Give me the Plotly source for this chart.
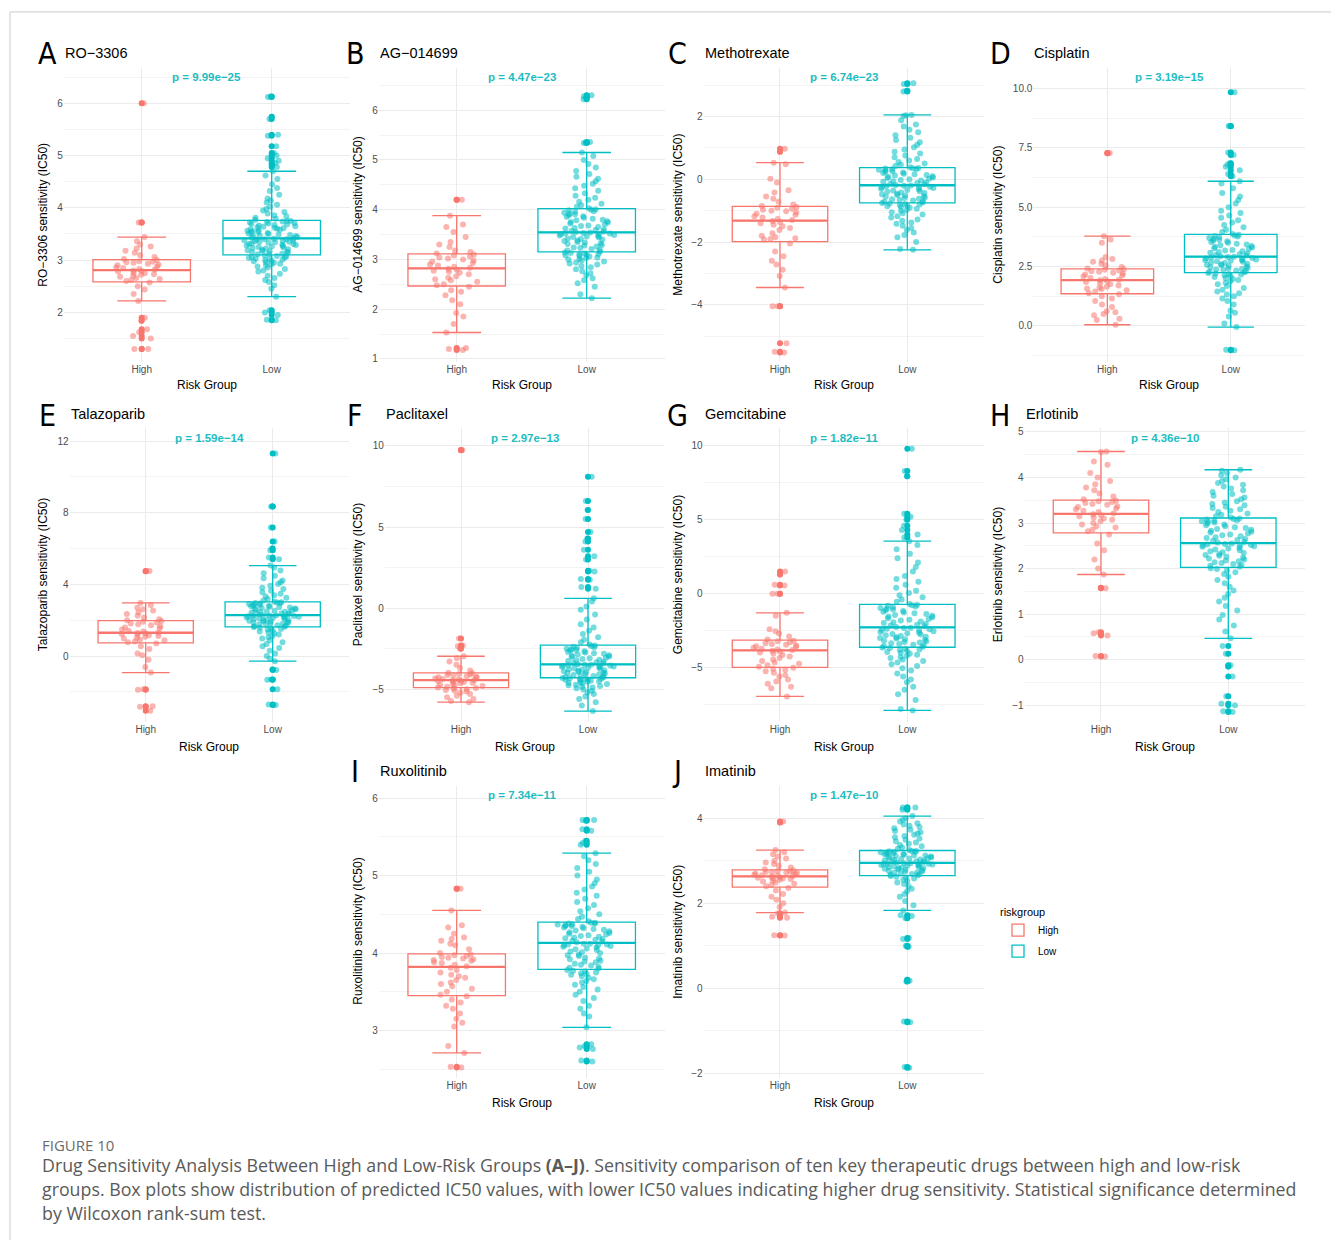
import numpy as np
import plotly.graph_objects as go

# ---------------- data ----------------
groups = ["High", "Low"]
panel_letters = ["A", "B", "C", "D", "E", "F", "G", "H", "I", "J"]
drugs = ["RO−3306", "AG−014699", "Methotrexate", "Cisplatin", "Talazoparib",
         "Paclitaxel", "Gemcitabine", "Erlotinib", "Ruxolitinib", "Imatinib"]
p_labels = ["p = 9.99e−25", "p = 4.47e−23", "p = 6.74e−23", "p = 3.19e−15",
            "p = 1.59e−14", "p = 2.97e−13", "p = 1.82e−11", "p = 4.36e−10",
            "p = 7.34e−11", "p = 1.47e−10"]

ro3306_high = [1.30, 1.30, 1.50, 1.55, 1.62, 1.68, 1.84, 1.90, 2.22, 2.35, 2.44, 2.50, 2.57,
               2.60, 2.62, 2.64, 2.66, 2.68, 2.70, 2.72, 2.73, 2.75, 2.76, 2.78, 2.79, 2.80,
               2.82, 2.83, 2.85, 2.86, 2.88, 2.90, 2.91, 2.93, 2.95, 2.96, 2.97, 2.98, 3.00,
               3.02, 3.06, 3.10, 3.14, 3.18, 3.22, 3.26, 3.30, 3.36, 3.44, 3.72, 3.72, 6.00]
ro3306_low = [1.85, 1.86, 1.95, 2.00, 2.04, 2.30, 2.45, 2.52, 2.58, 2.62, 2.66, 2.70, 2.74, 2.78,
              2.80, 2.83, 2.86, 2.88, 2.90, 2.92, 2.93, 2.95, 2.96, 2.98, 2.99, 3.00, 3.01, 3.02,
              3.03, 3.04, 3.05, 3.06, 3.07, 3.08, 3.09,
              3.11, 3.12, 3.12, 3.14, 3.15, 3.16, 3.17, 3.18, 3.19, 3.20, 3.21, 3.22, 3.23, 3.24,
              3.25, 3.26, 3.27, 3.28, 3.29, 3.30, 3.31, 3.31, 3.32, 3.33, 3.34, 3.35, 3.35, 3.36,
              3.37, 3.38, 3.38, 3.39, 3.40, 3.40, 3.41,
              3.42, 3.43, 3.44, 3.45, 3.46, 3.47, 3.48, 3.49, 3.50, 3.51, 3.52, 3.53, 3.54, 3.55,
              3.56, 3.57, 3.58, 3.59, 3.60, 3.61, 3.62, 3.63, 3.64, 3.65, 3.66, 3.67, 3.68, 3.69,
              3.70, 3.71, 3.72, 3.73, 3.74, 3.75, 3.75,
              3.77, 3.79, 3.81, 3.84, 3.86, 3.89, 3.92, 3.95, 3.98, 4.02, 4.06, 4.10, 4.14, 4.18,
              4.25, 4.32, 4.38, 4.45, 4.55, 4.62, 4.70, 4.78, 4.82, 4.86, 4.90, 4.95, 5.00, 5.05,
              5.18, 5.38, 5.40, 5.70, 5.74, 6.12, 6.13]

ag014699_high = [1.18, 1.20, 1.22, 1.53, 1.70, 1.85, 1.92, 2.10, 2.18, 2.28, 2.35, 2.38, 2.45,
                 2.48, 2.50, 2.55, 2.58, 2.60, 2.63, 2.66, 2.70, 2.73, 2.75, 2.77, 2.79, 2.81,
                 2.83, 2.85, 2.88, 2.90, 2.93, 2.96, 2.98, 3.00, 3.02, 3.04, 3.06, 3.08, 3.10,
                 3.12, 3.15, 3.18, 3.25, 3.30, 3.35, 3.45, 3.55, 3.65, 3.70, 3.88, 4.20, 4.20]
ag014699_low = [2.22, 2.30, 2.45, 2.52, 2.58, 2.62, 2.68, 2.72, 2.76, 2.80, 2.84, 2.87, 2.90, 2.92,
                2.94, 2.96, 2.98, 3.00, 3.01, 3.03, 3.04, 3.06, 3.07, 3.08, 3.09, 3.10, 3.11, 3.12,
                3.13, 3.14,
                3.16, 3.18, 3.19, 3.21, 3.23, 3.24, 3.26, 3.28, 3.29, 3.31, 3.32, 3.34, 3.35, 3.37,
                3.38, 3.40, 3.41, 3.42, 3.44, 3.45, 3.46, 3.47, 3.48, 3.49, 3.50, 3.51, 3.52, 3.52,
                3.53, 3.54,
                3.55, 3.56, 3.57, 3.59, 3.60, 3.62, 3.63, 3.65, 3.67, 3.68, 3.70, 3.72, 3.74, 3.75,
                3.77, 3.79, 3.80, 3.82, 3.84, 3.86, 3.87, 3.89, 3.91, 3.92, 3.94, 3.96, 3.97, 3.99,
                4.00, 4.01,
                4.03, 4.06, 4.09, 4.12, 4.16, 4.20, 4.24, 4.28, 4.33, 4.38, 4.43, 4.48, 4.52, 4.57,
                4.62, 4.66, 4.72, 4.78, 4.85, 4.92, 5.00, 5.08, 5.15, 5.34, 5.35, 5.36, 6.22, 6.25,
                6.28, 6.30]

methotrexate_high = [-5.52, -5.50, -5.23, -4.05, -4.05, -3.45, -3.08, -2.88, -2.72, -2.60, -2.45, -2.30, -2.05,
                     -1.92, -1.90, -1.88, -1.85, -1.80, -1.72, -1.62, -1.55, -1.50, -1.45, -1.40, -1.36, -1.33,
                     -1.30, -1.27, -1.22, -1.18, -1.13, -1.10, -1.05, -1.02, -1.00, -0.97, -0.94, -0.91, -0.88,
                     -0.85, -0.80, -0.72, -0.62, -0.55, -0.42, -0.35, -0.10, 0.02, 0.48, 0.53, 0.88, 0.97]
methotrexate_low = [-2.25, -2.22, -2.00, -1.85, -1.78, -1.70, -1.62, -1.55, -1.48, -1.42, -1.38, -1.32,
                    -1.28, -1.22, -1.18, -1.12, -1.08, -1.05, -1.00, -0.97, -0.94, -0.91, -0.88, -0.86,
                    -0.84, -0.82, -0.80, -0.79, -0.77, -0.76,
                    -0.74, -0.72, -0.70, -0.68, -0.66, -0.64, -0.62, -0.60, -0.58, -0.56, -0.54, -0.52,
                    -0.50, -0.48, -0.46, -0.44, -0.42, -0.40, -0.38, -0.36, -0.34, -0.32, -0.30, -0.28,
                    -0.27, -0.25, -0.24, -0.22, -0.21, -0.20,
                    -0.18, -0.16, -0.14, -0.12, -0.10, -0.08, -0.06, -0.04, -0.02, 0.00, 0.02, 0.04,
                    0.06, 0.08, 0.10, 0.12, 0.14, 0.16, 0.18, 0.20, 0.22, 0.24, 0.26, 0.28, 0.30, 0.32,
                    0.33, 0.34, 0.35, 0.36,
                    0.38, 0.42, 0.46, 0.50, 0.55, 0.60, 0.65, 0.70, 0.76, 0.82, 0.88, 0.95, 1.02, 1.10,
                    1.18, 1.25, 1.32, 1.40, 1.50, 1.58, 1.68, 1.75, 1.88, 2.02, 2.04, 2.05, 2.80, 2.82,
                    3.04, 3.06]

cisplatin_high = [0.05, 0.25, 0.30, 0.45, 0.50, 0.58, 0.62, 0.80, 0.90, 1.05, 1.15, 1.25, 1.33,
                  1.38, 1.45, 1.50, 1.55, 1.58, 1.62, 1.65, 1.70, 1.75, 1.80, 1.85, 1.88, 1.92,
                  1.94, 1.98, 2.02, 2.08, 2.12, 2.16, 2.20, 2.24, 2.28, 2.30, 2.33, 2.36, 2.39,
                  2.42, 2.48, 2.55, 2.62, 2.70, 2.75, 2.82, 2.90, 3.50, 3.64, 3.78, 7.27, 7.28]
cisplatin_low = [-1.02, -1.00, -0.05, 0.10, 0.40, 0.55, 0.65, 0.90, 1.05, 1.15, 1.25, 1.32, 1.38,
                 1.45, 1.52, 1.60, 1.68, 1.75, 1.82, 1.88, 1.93, 1.98, 2.02, 2.06, 2.10, 2.13, 2.16,
                 2.19, 2.21, 2.23,
                 2.26, 2.28, 2.30, 2.33, 2.35, 2.38, 2.40, 2.42, 2.45, 2.47, 2.50, 2.52, 2.55, 2.57,
                 2.60, 2.62, 2.65, 2.67, 2.70, 2.72, 2.74, 2.76, 2.78, 2.80, 2.82, 2.84, 2.86, 2.88,
                 2.90, 2.91,
                 2.93, 2.96, 2.99, 3.02, 3.05, 3.08, 3.11, 3.14, 3.17, 3.20, 3.24, 3.27, 3.30, 3.33,
                 3.36, 3.40, 3.43, 3.46, 3.50, 3.53, 3.56, 3.60, 3.63, 3.66, 3.70, 3.73, 3.76, 3.79,
                 3.81, 3.84,
                 3.87, 3.95, 4.05, 4.15, 4.25, 4.35, 4.45, 4.55, 4.65, 4.75, 4.85, 5.00, 5.15, 5.30,
                 5.45, 5.60, 5.80, 6.00, 6.09, 6.30, 6.40, 6.55, 6.70, 6.80, 6.85, 7.20, 7.30, 8.41,
                 8.42, 9.84]

talazoparib_high = [-3.05, -2.82, -2.80, -1.87, -1.85, -0.92, -0.60, -0.20, 0.05, 0.15, 0.40, 0.55, 0.70,
                    0.78, 0.82, 0.88, 0.92, 0.98, 1.02, 1.08, 1.12, 1.16, 1.20, 1.24, 1.27, 1.29,
                    1.32, 1.38, 1.42, 1.48, 1.55, 1.60, 1.66, 1.72, 1.78, 1.82, 1.88, 1.92, 1.96,
                    2.00, 2.06, 2.15, 2.25, 2.35, 2.45, 2.55, 2.62, 2.70, 2.85, 2.97, 4.73, 4.75]
talazoparib_low = [-2.72, -2.70, -1.85, -1.32, -1.30, -0.77, -0.75, -0.28, -0.15, 0.00, 0.15, 0.30,
                   0.45, 0.55, 0.68, 0.78, 0.88, 0.98, 1.05, 1.12, 1.20, 1.26, 1.32, 1.38, 1.43, 1.48,
                   1.52, 1.56, 1.59, 1.62,
                   1.64, 1.67, 1.70, 1.72, 1.75, 1.78, 1.80, 1.83, 1.86, 1.88, 1.90, 1.93, 1.95, 1.98,
                   2.00, 2.02, 2.05, 2.07, 2.09, 2.11, 2.13, 2.15, 2.17, 2.19, 2.21, 2.22, 2.24, 2.25,
                   2.26, 2.27,
                   2.30, 2.33, 2.35, 2.38, 2.40, 2.43, 2.46, 2.48, 2.51, 2.53, 2.56, 2.58, 2.61, 2.63,
                   2.66, 2.68, 2.71, 2.73, 2.76, 2.78, 2.81, 2.83, 2.86, 2.88, 2.91, 2.93, 2.95, 2.97,
                   2.99, 3.01,
                   3.04, 3.10, 3.18, 3.25, 3.32, 3.40, 3.48, 3.56, 3.65, 3.74, 3.82, 3.92, 4.02, 4.12,
                   4.22, 4.35, 4.48, 4.62, 4.78, 4.95, 5.05, 5.40, 5.50, 5.90, 6.00, 6.40, 7.18, 8.35,
                   8.35, 11.30]

paclitaxel_high = [-5.80, -5.73, -5.60, -5.50, -5.40, -5.30, -5.22, -5.15, -5.10, -5.05, -5.00, -4.96, -4.93,
                   -4.89, -4.85, -4.80, -4.76, -4.72, -4.68, -4.64, -4.60, -4.56, -4.53, -4.50, -4.47, -4.45,
                   -4.43, -4.40, -4.37, -4.34, -4.30, -4.27, -4.24, -4.20, -4.16, -4.12, -4.09, -4.06, -4.02,
                   -3.98, -3.85, -3.70, -3.50, -3.30, -3.10, -2.97, -2.50, -2.35, -2.30, -1.87, 9.73, 9.75]
paclitaxel_low = [-6.35, -6.00, -5.80, -5.60, -5.45, -5.30, -5.20, -5.10, -5.02, -4.95, -4.90, -4.85,
                  -4.80, -4.76, -4.72, -4.68, -4.64, -4.60, -4.57, -4.54, -4.51, -4.48, -4.45, -4.42,
                  -4.40, -4.38, -4.36, -4.34, -4.32, -4.31,
                  -4.28, -4.25, -4.22, -4.19, -4.16, -4.13, -4.10, -4.07, -4.04, -4.01, -3.98, -3.95,
                  -3.92, -3.89, -3.86, -3.83, -3.80, -3.77, -3.74, -3.71, -3.68, -3.65, -3.62, -3.60,
                  -3.58, -3.56, -3.54, -3.52, -3.50, -3.49,
                  -3.46, -3.42, -3.38, -3.34, -3.30, -3.26, -3.22, -3.18, -3.14, -3.10, -3.06, -3.02,
                  -2.98, -2.94, -2.90, -2.86, -2.82, -2.78, -2.74, -2.70, -2.66, -2.62, -2.58, -2.54,
                  -2.50, -2.46, -2.42, -2.38, -2.34, -2.31,
                  -2.25, -2.10, -1.95, -1.80, -1.60, -1.40, -1.20, -1.00, -0.70, -0.40, -0.10, 0.10,
                  0.40, 0.60, 1.20, 1.30, 1.75, 1.80, 2.25, 2.30, 3.00, 3.20, 3.60, 4.10, 4.30, 4.70,
                  5.50, 6.05, 6.60, 8.10]

gemcitabine_high = [-6.95, -6.40, -6.30, -6.10, -5.95, -5.80, -5.60, -5.50, -5.35, -5.25, -5.15, -5.08, -5.02,
                    -4.95, -4.85, -4.75, -4.65, -4.55, -4.45, -4.35, -4.25, -4.15, -4.05, -3.98, -3.92, -3.86,
                    -3.82, -3.78, -3.72, -3.66, -3.60, -3.55, -3.50, -3.45, -3.40, -3.35, -3.28, -3.22, -3.18,
                    -3.10, -2.90, -2.70, -2.55, -2.40, -1.50, -1.30, 0.00, 0.00, 0.55, 0.60, 1.30, 1.50]
gemcitabine_low = [-7.90, -7.80, -7.20, -6.80, -6.50, -6.30, -6.00, -5.80, -5.60, -5.40, -5.20, -5.05,
                   -4.90, -4.78, -4.66, -4.55, -4.45, -4.36, -4.28, -4.20, -4.13, -4.06, -4.00, -3.94,
                   -3.88, -3.82, -3.77, -3.72, -3.68, -3.65,
                   -3.60, -3.55, -3.50, -3.45, -3.40, -3.36, -3.31, -3.27, -3.22, -3.18, -3.13, -3.09,
                   -3.04, -3.00, -2.95, -2.91, -2.86, -2.82, -2.77, -2.73, -2.68, -2.64, -2.59, -2.55,
                   -2.50, -2.46, -2.41, -2.37, -2.33, -2.30,
                   -2.26, -2.20, -2.15, -2.10, -2.04, -1.98, -1.93, -1.88, -1.82, -1.76, -1.71, -1.66,
                   -1.60, -1.55, -1.50, -1.44, -1.38, -1.33, -1.28, -1.22, -1.17, -1.12, -1.07, -1.02,
                   -0.97, -0.92, -0.87, -0.82, -0.78, -0.75,
                   -0.70, -0.55, -0.40, -0.25, -0.10, 0.05, 0.20, 0.40, 0.60, 0.80, 1.00, 1.20, 1.50,
                   1.80, 2.10, 2.40, 2.70, 3.00, 3.30, 3.55, 3.80, 4.00, 4.30, 4.60, 5.00, 5.20, 5.40,
                   7.95, 8.30, 9.80]

erlotinib_high = [0.07, 0.08, 0.53, 0.58, 0.60, 1.57, 1.58, 1.87, 2.00, 2.20, 2.40, 2.55, 2.75,
                  2.82, 2.86, 2.90, 2.93, 2.97, 3.00, 3.04, 3.07, 3.10, 3.12, 3.15, 3.17, 3.19,
                  3.21, 3.24, 3.27, 3.30, 3.32, 3.35, 3.37, 3.40, 3.42, 3.44, 3.46, 3.48, 3.49,
                  3.52, 3.58, 3.65, 3.72, 3.78, 3.85, 3.92, 4.00, 4.10, 4.28, 4.35, 4.56, 4.57]
erlotinib_low = [-1.15, -1.13, -1.00, -0.97, -0.80, -0.37, -0.15, -0.12, 0.13, 0.30, 0.47, 0.62, 0.75,
                 0.88, 0.98, 1.08, 1.18, 1.28, 1.36, 1.44, 1.52, 1.60, 1.68, 1.75, 1.82, 1.88, 1.92,
                 1.96, 1.99, 2.01,
                 2.04, 2.06, 2.08, 2.10, 2.12, 2.14, 2.16, 2.18, 2.20, 2.22, 2.24, 2.26, 2.28, 2.30,
                 2.32, 2.34, 2.36, 2.38, 2.40, 2.42, 2.44, 2.46, 2.48, 2.49, 2.50, 2.51, 2.52, 2.53,
                 2.54, 2.55,
                 2.57, 2.59, 2.61, 2.63, 2.65, 2.67, 2.69, 2.71, 2.73, 2.75, 2.77, 2.79, 2.81, 2.83,
                 2.85, 2.87, 2.89, 2.91, 2.93, 2.95, 2.97, 2.99, 3.01, 3.03, 3.04, 3.05, 3.06, 3.08,
                 3.09, 3.10,
                 3.12, 3.15, 3.18, 3.21, 3.24, 3.27, 3.30, 3.33, 3.36, 3.39, 3.42, 3.45, 3.48, 3.52,
                 3.56, 3.60, 3.64, 3.68, 3.72, 3.76, 3.80, 3.84, 3.88, 3.92, 3.96, 4.00, 4.05, 4.10,
                 4.15, 4.17]

ruxolitinib_high = [2.52, 2.53, 2.71, 2.80, 3.05, 3.10, 3.15, 3.22, 3.28, 3.32, 3.36, 3.40, 3.44,
                    3.46, 3.50, 3.54, 3.57, 3.60, 3.62, 3.65, 3.68, 3.70, 3.72, 3.75, 3.78, 3.81,
                    3.83, 3.85, 3.87, 3.88, 3.90, 3.91, 3.92, 3.93, 3.94, 3.95, 3.96, 3.97, 3.98,
                    4.00, 4.05, 4.10, 4.12, 4.16, 4.18, 4.20, 4.25, 4.33, 4.36, 4.55, 4.83, 4.83]
ruxolitinib_low = [2.60, 2.61, 2.76, 2.78, 2.80, 2.82, 3.04, 3.18, 3.22, 3.28, 3.32, 3.38, 3.42, 3.46,
                   3.50, 3.53, 3.56, 3.59, 3.62, 3.64, 3.66, 3.68, 3.70, 3.72, 3.73, 3.74, 3.75, 3.76,
                   3.77, 3.78,
                   3.80, 3.81, 3.82, 3.84, 3.85, 3.86, 3.88, 3.89, 3.90, 3.92, 3.93, 3.94, 3.96, 3.97,
                   3.98, 4.00, 4.01, 4.02, 4.04, 4.05, 4.06, 4.07, 4.08, 4.09, 4.10, 4.10, 4.11, 4.11,
                   4.12, 4.12,
                   4.14, 4.15, 4.16, 4.17, 4.18, 4.19, 4.20, 4.21, 4.22, 4.23, 4.24, 4.25, 4.26, 4.27,
                   4.28, 4.29, 4.30, 4.31, 4.32, 4.33, 4.34, 4.35, 4.35, 4.36, 4.37, 4.37, 4.38, 4.38,
                   4.39, 4.39,
                   4.41, 4.44, 4.47, 4.50, 4.54, 4.58, 4.62, 4.66, 4.70, 4.74, 4.78, 4.82, 4.86, 4.90,
                   4.95, 5.00, 5.05, 5.10, 5.15, 5.20, 5.25, 5.29, 5.40, 5.42, 5.45, 5.58, 5.60, 5.71,
                   5.72, 5.72]

imatinib_high = [1.24, 1.25, 1.66, 1.68, 1.76, 1.78, 1.91, 2.00, 2.08, 2.15, 2.22, 2.30, 2.36,
                 2.40, 2.43, 2.46, 2.49, 2.51, 2.53, 2.55, 2.57, 2.58, 2.59, 2.60, 2.61, 2.62,
                 2.64, 2.65, 2.66, 2.67, 2.68, 2.70, 2.71, 2.72, 2.73, 2.74, 2.75, 2.76, 2.77,
                 2.80, 2.84, 2.88, 2.92, 2.96, 3.00, 3.05, 3.10, 3.15, 3.20, 3.25, 3.90, 3.92]
imatinib_low = [-1.87, -1.85, -0.80, -0.78, 0.16, 0.18, 0.20, 0.98, 1.00, 1.16, 1.18, 1.65, 1.70, 1.72,
                1.83, 1.95, 2.05, 2.15, 2.22, 2.28, 2.34, 2.40, 2.45, 2.49, 2.52, 2.55, 2.58, 2.60,
                2.62, 2.64,
                2.66, 2.67, 2.68, 2.69, 2.70, 2.72, 2.73, 2.74, 2.75, 2.76, 2.78, 2.79, 2.80, 2.81,
                2.82, 2.83, 2.84, 2.85, 2.86, 2.87, 2.88, 2.89, 2.90, 2.91, 2.91, 2.92, 2.93, 2.93,
                2.94, 2.94,
                2.96, 2.97, 2.98, 2.99, 3.00, 3.01, 3.02, 3.03, 3.04, 3.05, 3.06, 3.07, 3.08, 3.09,
                3.10, 3.11, 3.12, 3.13, 3.14, 3.15, 3.16, 3.17, 3.18, 3.19, 3.20, 3.21, 3.21, 3.22,
                3.23, 3.23,
                3.25, 3.28, 3.31, 3.34, 3.37, 3.40, 3.43, 3.46, 3.49, 3.52, 3.55, 3.58, 3.61, 3.64,
                3.67, 3.70, 3.73, 3.76, 3.79, 3.82, 3.85, 3.88, 3.92, 3.96, 4.00, 4.05, 4.20, 4.22,
                4.25, 4.25]

high_values = [ro3306_high, ag014699_high, methotrexate_high, cisplatin_high, talazoparib_high,
               paclitaxel_high, gemcitabine_high, erlotinib_high, ruxolitinib_high, imatinib_high]
low_values = [ro3306_low, ag014699_low, methotrexate_low, cisplatin_low, talazoparib_low,
              paclitaxel_low, gemcitabine_low, erlotinib_low, ruxolitinib_low, imatinib_low]

# ---------------- layout geometry (pixels on the page) ----------------
W, H = 1331, 1243
row_top_bottom = [(66, 361), (428, 723), (787, 1080)]
panel_row = [0, 0, 0, 0, 1, 1, 1, 1, 2, 2]
panel_left_right = [(63.7, 349.7), (378.7, 664.7), (703.6, 983.7), (1033.3, 1304.8),
                    (69.5, 348.9), (384.8, 664.2), (703.6, 983.7), (1024.6, 1304.7),
                    (378.7, 664.7), (703.6, 983.7)]
y_ranges = [(1.06, 6.68), (0.946, 6.855), (-5.81, 3.556), (-1.5, 10.87), (-3.68, 12.71),
            (-7.03, 11.09), (-8.69, 11.19), (-1.37, 5.08), (2.39, 6.16), (-2.1, 4.76)]
# (tick0, dtick, minor dtick, tick format)
y_ticks = [(0, 1, 0.5, ""), (0, 1, 0.5, ""), (0, 2, 1, ""), (0, 2.5, 1.25, ".1f"),
           (0, 4, 2, ""), (0, 5, 2.5, ""), (0, 5, 2.5, ""), (0, 1, 0.5, ""),
           (0, 1, 0.5, ""), (0, 2, 1, "")]
ytitle_px = [43, 358, 678, 998, 43, 358, 678, 998, 358, 678]
letter_px = [47, 355, 677, 1000, 47, 355, 677, 1000, 355, 677]
letter_row_y = [52, 415, 773]
drug_row_y = [51, 414, 772]
pval_row_y = [75, 438, 796]
xtitle_row_y = [385, 748, 1105]

HIGH_COLOR = "#F8766D"
LOW_COLOR = "#00BFC4"
POINT_COLORS = {"High": "rgba(248,118,109,0.55)", "Low": "rgba(0,191,196,0.55)"}
LINE_COLORS = {"High": HIGH_COLOR, "Low": LOW_COLOR}
FONT = "Liberation Sans, Arial, sans-serif"
GRID_MAJOR = "#EBEBEB"
GRID_MINOR = "#F3F3F3"


def px_x(x):
    return x / W


def px_y(y):
    return 1 - y / H


fig = go.Figure()
annotations = []
shapes = []
layout_axes = {}

for k in range(10):
    sfx = "" if k == 0 else str(k + 1)
    xa, ya = "x" + sfx, "y" + sfx
    top, bottom = row_top_bottom[panel_row[k]]
    left, right = panel_left_right[k]
    t0, dt, mdt, fmt = y_ticks[k]

    layout_axes["xaxis" + sfx] = dict(
        domain=[px_x(left), px_x(right)], anchor=ya, type="category",
        categoryorder="array", categoryarray=groups, range=[-0.6, 1.6],
        showgrid=True, gridcolor=GRID_MAJOR, gridwidth=1.1, zeroline=False,
        showline=False, ticks="", tickfont=dict(family=FONT, size=10, color="#4D4D4D"),
        fixedrange=True,
    )
    layout_axes["yaxis" + sfx] = dict(
        domain=[px_y(bottom), px_y(top)], anchor=xa, range=list(y_ranges[k]),
        tickmode="linear", tick0=t0, dtick=dt, tickformat=fmt,
        showgrid=True, gridcolor=GRID_MAJOR, gridwidth=1.1, zeroline=False,
        showline=False, ticks="", tickfont=dict(family=FONT, size=10, color="#4D4D4D"),
        minor=dict(tick0=t0, dtick=mdt, showgrid=True, gridcolor=GRID_MINOR, gridwidth=0.7),
        fixedrange=True,
    )

    series = {"High": high_values[k], "Low": low_values[k]}

    # outliers drawn solid at the group centre (box outline hidden)
    for g in groups:
        vals = series[g]
        fig.add_trace(go.Box(
            x=[g] * len(vals), y=vals, xaxis=xa, yaxis=ya, name=g,
            legendgroup=g, showlegend=False, boxpoints="outliers", jitter=0, pointpos=0,
            width=0.75, fillcolor="rgba(0,0,0,0)",
            line=dict(width=0, color="rgba(0,0,0,0)"),
            marker=dict(color=LINE_COLORS[g], size=6, line=dict(width=0)),
            hoverinfo="skip",
        ))
    # box outlines with every sample jittered on top
    for g in groups:
        vals = series[g]
        fig.add_trace(go.Box(
            x=[g] * len(vals), y=vals, xaxis=xa, yaxis=ya, name=g,
            legendgroup=g, showlegend=(k == 0), boxpoints="all", jitter=0.6, pointpos=0,
            width=0.75, fillcolor="rgba(0,0,0,0)",
            line=dict(width=1.3, color=LINE_COLORS[g]),
            marker=dict(color=POINT_COLORS[g], size=6, line=dict(width=0)),
        ))
        gi = groups.index(g)
        med = float(np.median(vals))
        shapes.append(dict(type="line", xref=xa, yref=ya, x0=gi - 0.375, x1=gi + 0.375,
                           y0=med, y1=med, line=dict(color=LINE_COLORS[g], width=2.3),
                           layer="between"))

    yc = (top + bottom) / 2
    row = panel_row[k]
    # panel letter and drug name
    annotations.append(dict(text=panel_letters[k], x=px_x(letter_px[k]), y=px_y(letter_row_y[row]),
                            xref="paper", yref="paper", xanchor="center", yanchor="middle",
                            showarrow=False,
                            font=dict(family="Liberation Sans Narrow, DejaVu Sans Condensed, Liberation Sans",
                                      size=30, color="#000000")))
    annotations.append(dict(text=drugs[k], x=px_x(left - 1), y=px_y(drug_row_y[row]),
                            xref="paper", yref="paper", xanchor="left", yanchor="middle",
                            showarrow=False, font=dict(family=FONT, size=14.5, color="#000000")))
    # p-value label
    annotations.append(dict(text="<b>" + p_labels[k] + "</b>", x=0.5, y=px_y(pval_row_y[row]),
                            xref=xa, yref="paper", xanchor="center", yanchor="middle", showarrow=False,
                            font=dict(family=FONT, size=11.5, color="#1CBDC2")))
    # axis titles
    annotations.append(dict(text=drugs[k] + " sensitivity (IC50)", x=px_x(ytitle_px[k]), y=px_y(yc),
                            xref="paper", yref="paper", xanchor="center", yanchor="middle",
                            textangle=-90, showarrow=False,
                            font=dict(family=FONT, size=12, color="#000000")))
    annotations.append(dict(text="Risk Group", x=0.5, y=px_y(xtitle_row_y[row]), xref=xa, yref="paper",
                            xanchor="center", yanchor="middle", showarrow=False,
                            font=dict(family=FONT, size=12, color="#000000")))

# figure caption
caption_font = "Open Sans, Lato, sans-serif"
annotations.append(dict(text="FIGURE 10", x=px_x(40), y=px_y(1148), xref="paper", yref="paper",
                        xanchor="left", yanchor="middle", showarrow=False,
                        font=dict(family=caption_font, size=15, color="#6B6B6B")))
caption_lines = [
    "Drug Sensitivity Analysis Between High and Low-Risk Groups <b>(A–J)</b>. Sensitivity comparison of ten key therapeutic drugs between high and low-risk",
    "groups. Box plots show distribution of predicted IC50 values, with lower IC50 values indicating higher drug sensitivity. Statistical significance determined",
    "by Wilcoxon rank-sum test.",
]
for i, line in enumerate(caption_lines):
    annotations.append(dict(text=line, x=px_x(40), y=px_y(1168 + 24 * i), xref="paper", yref="paper",
                            xanchor="left", yanchor="middle", showarrow=False,
                            font=dict(family=caption_font, size=17.8, color="#5A5A5A")))

# page frame lines
shapes.append(dict(type="line", xref="paper", yref="paper", x0=px_x(10), x1=1, y0=px_y(10), y1=px_y(10),
                   line=dict(color="#D4D4D4", width=1.2)))
shapes.append(dict(type="line", xref="paper", yref="paper", x0=px_x(10), x1=px_x(10), y0=px_y(10), y1=0,
                   line=dict(color="#D4D4D4", width=1.2)))

fig.update_layout(
    width=W, height=H, autosize=False,
    margin=dict(l=0, r=0, t=0, b=0, pad=0),
    paper_bgcolor="white", plot_bgcolor="white",
    boxmode="overlay",
    showlegend=True,
    legend=dict(title=dict(text="riskgroup", font=dict(family=FONT, size=11, color="#000000")),
                x=px_x(998), y=px_y(903), xanchor="left", yanchor="top",
                font=dict(family=FONT, size=10, color="#000000"),
                bgcolor="rgba(0,0,0,0)", tracegroupgap=2),
    annotations=annotations,
    shapes=shapes,
    **layout_axes,
)

fig.write_html("out.html")
